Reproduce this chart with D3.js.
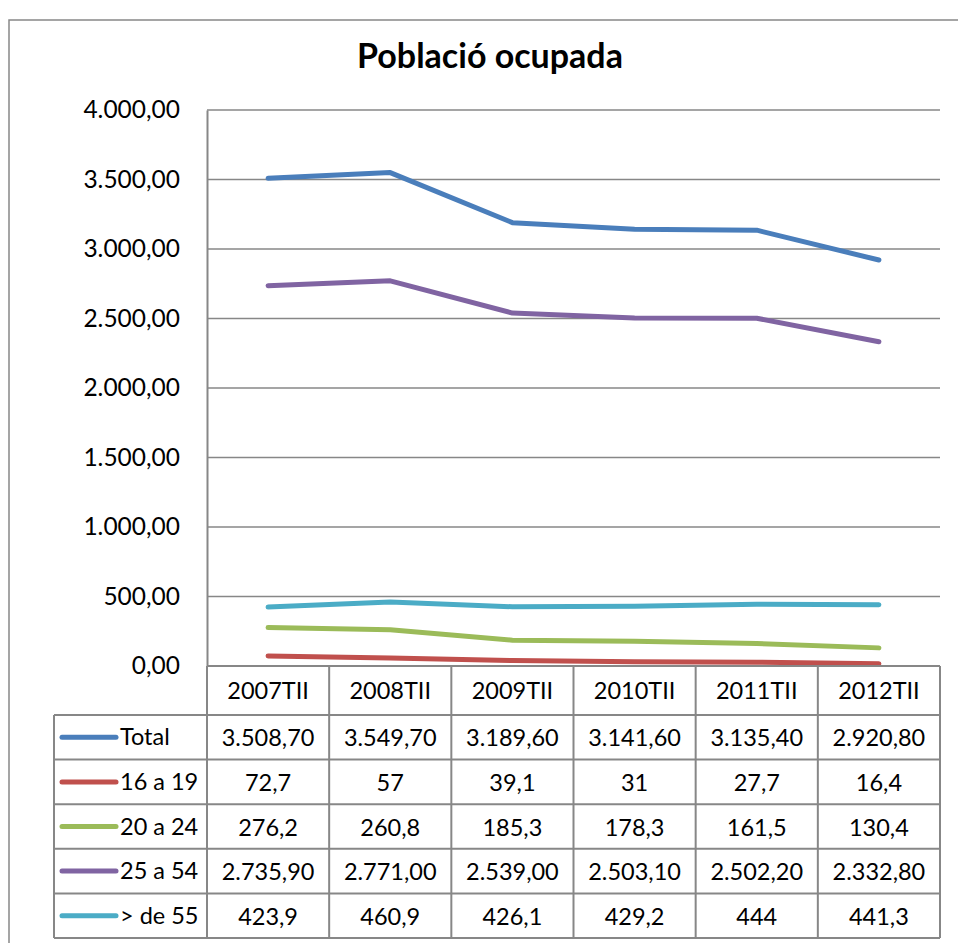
<!DOCTYPE html>
<html>
<head>
<meta charset="utf-8">
<script src="https://cdn.jsdelivr.net/npm/d3@7"></script>
<style>
  body { margin: 0; background: #fff; }
  text { font-family: Lato, "Open Sans", sans-serif; fill: #000; }
</style>
</head>
<body>
<div id="chart"></div>
<script>
const width = 958;
const height = 943;

// data
const periods = ["2007TII", "2008TII", "2009TII", "2010TII", "2011TII", "2012TII"];
const seriesNames = ["Total", "16 a 19", "20 a 24", "25 a 54", "> de 55"];
const seriesColors = ["#4a7ebb", "#c0504d", "#9bbb59", "#8064a2", "#4bacc6"];
const total = [3508.7, 3549.7, 3189.6, 3141.6, 3135.4, 2920.8];
const age16to19 = [72.7, 57, 39.1, 31, 27.7, 16.4];
const age20to24 = [276.2, 260.8, 185.3, 178.3, 161.5, 130.4];
const age25to54 = [2735.9, 2771.0, 2539.0, 2503.1, 2502.2, 2332.8];
const age55plus = [423.9, 460.9, 426.1, 429.2, 444, 441.3];
const yTicks = [0, 500, 1000, 1500, 2000, 2500, 3000, 3500, 4000];

const allValues = [total, age16to19, age20to24, age25to54, age55plus];
// Total and 25 a 54 are shown with two decimals in the table
const fixedDecimals = [true, false, false, true, false];

const series = seriesNames.map((name, i) => ({
    name: name,
    color: seriesColors[i],
    fixed: fixedDecimals[i],
    values: allValues[i].map((v, j) => ({ period: periods[j], value: v }))
}));

const locale = d3.formatLocale({ decimal: ",", thousands: ".", grouping: [3], currency: ["", "€"] });
const fmt2 = locale.format(",.2f");
const fmtPlain = v => String(v).replace(".", ",");

// layout
const plot = { left: 207, right: 940, top: 110, bottom: 666 };
const table = { left: 54, headerH: 49, rowH: 44.6 };
const gridColor = "#878787";
const tableFont = 23.5;

// scales
const xScale = d3.scaleBand()
    .domain(periods)
    .range([plot.left, plot.right]);

const yScale = d3.scaleLinear()
    .domain([0, 4000])
    .range([plot.bottom, plot.top]);

const rowScale = d3.scaleBand()
    .domain(seriesNames)
    .range([plot.bottom + table.headerH, plot.bottom + table.headerH + seriesNames.length * table.rowH]);

const svg = d3.select("#chart").append("svg")
    .attr("width", width)
    .attr("height", height);

// outer chart frame
svg.append("rect")
    .attr("x", 9)
    .attr("y", 20)
    .attr("width", 980)
    .attr("height", 960)
    .attr("fill", "#fff")
    .attr("stroke", "#888")
    .attr("stroke-width", 1.5);

svg.append("text")
    .attr("x", 490)
    .attr("y", 68)
    .attr("text-anchor", "middle")
    .attr("font-size", 34)
    .attr("font-weight", 700)
    .text("Població ocupada");

// gridlines
svg.append("g")
    .selectAll("line")
    .data(yTicks.filter(d => d > 0))
    .join("line")
    .attr("x1", plot.left)
    .attr("x2", plot.right)
    .attr("y1", d => yScale(d))
    .attr("y2", d => yScale(d))
    .attr("stroke", gridColor)
    .attr("stroke-width", 1.5);

// y axis
const yAxis = d3.axisLeft(yScale)
    .tickValues(yTicks)
    .tickSize(0)
    .tickPadding(27)
    .tickFormat(fmt2);

const yAxisG = svg.append("g")
    .attr("transform", `translate(${plot.left},0)`)
    .call(yAxis);
yAxisG.select(".domain").attr("stroke", gridColor).attr("stroke-width", 2);
yAxisG.selectAll("text")
    .attr("font-size", 24.5)
    .attr("font-family", "Lato, sans-serif")
    .attr("fill", "#000");

// lines
const line = d3.line()
    .x(d => xScale(d.period) + xScale.bandwidth() / 2)
    .y(d => yScale(d.value));

svg.append("g")
    .selectAll("path")
    .data(series)
    .join("path")
    .attr("d", d => line(d.values))
    .attr("fill", "none")
    .attr("stroke", d => d.color)
    .attr("stroke-width", 5)
    .attr("stroke-linecap", "round")
    .attr("stroke-linejoin", "round");

// data table
const tableG = svg.append("g").attr("class", "table");
const tableBottom = rowScale.range()[1];

// horizontal lines
tableG.append("line")
    .attr("x1", plot.left).attr("x2", plot.right)
    .attr("y1", plot.bottom).attr("y2", plot.bottom);

tableG.selectAll("line.rowLine")
    .data(seriesNames)
    .join("line")
    .attr("class", "rowLine")
    .attr("x1", table.left).attr("x2", plot.right)
    .attr("y1", d => rowScale(d)).attr("y2", d => rowScale(d));

tableG.append("line")
    .attr("x1", table.left).attr("x2", plot.right)
    .attr("y1", tableBottom).attr("y2", tableBottom);

// vertical lines
tableG.append("line")
    .attr("x1", table.left).attr("x2", table.left)
    .attr("y1", rowScale.range()[0]).attr("y2", tableBottom);

tableG.selectAll("line.colLine")
    .data(periods)
    .join("line")
    .attr("class", "colLine")
    .attr("x1", d => xScale(d)).attr("x2", d => xScale(d))
    .attr("y1", plot.bottom).attr("y2", tableBottom);

tableG.append("line")
    .attr("x1", plot.right).attr("x2", plot.right)
    .attr("y1", plot.bottom).attr("y2", tableBottom);

tableG.selectAll("line")
    .attr("stroke", gridColor)
    .attr("stroke-width", 2);

// header
tableG.selectAll("text.header")
    .data(periods)
    .join("text")
    .attr("class", "header")
    .attr("x", d => xScale(d) + xScale.bandwidth() / 2)
    .attr("y", plot.bottom + table.headerH / 2 + 8)
    .attr("text-anchor", "middle")
    .attr("font-size", tableFont)
    .text(d => d);

// rows
const rowG = tableG.selectAll("g.row")
    .data(series)
    .join("g")
    .attr("class", "row")
    .attr("transform", d => `translate(0,${rowScale(d.name) + rowScale.bandwidth() / 2})`);

rowG.append("line")
    .attr("x1", 62)
    .attr("x2", 116)
    .attr("y1", 0)
    .attr("y2", 0)
    .attr("stroke", d => d.color)
    .attr("stroke-width", 5)
    .attr("stroke-linecap", "round");

rowG.append("text")
    .attr("x", 120)
    .attr("y", 8)
    .attr("font-size", tableFont)
    .text(d => d.name);

rowG.selectAll("text.cell")
    .data(d => d.values.map(v => ({ ...v, fixed: d.fixed })))
    .join("text")
    .attr("class", "cell")
    .attr("x", d => xScale(d.period) + xScale.bandwidth() / 2)
    .attr("y", 9)
    .attr("text-anchor", "middle")
    .attr("font-size", tableFont)
    .text(d => d.fixed ? fmt2(d.value) : fmtPlain(d.value));
</script>
</body>
</html>
